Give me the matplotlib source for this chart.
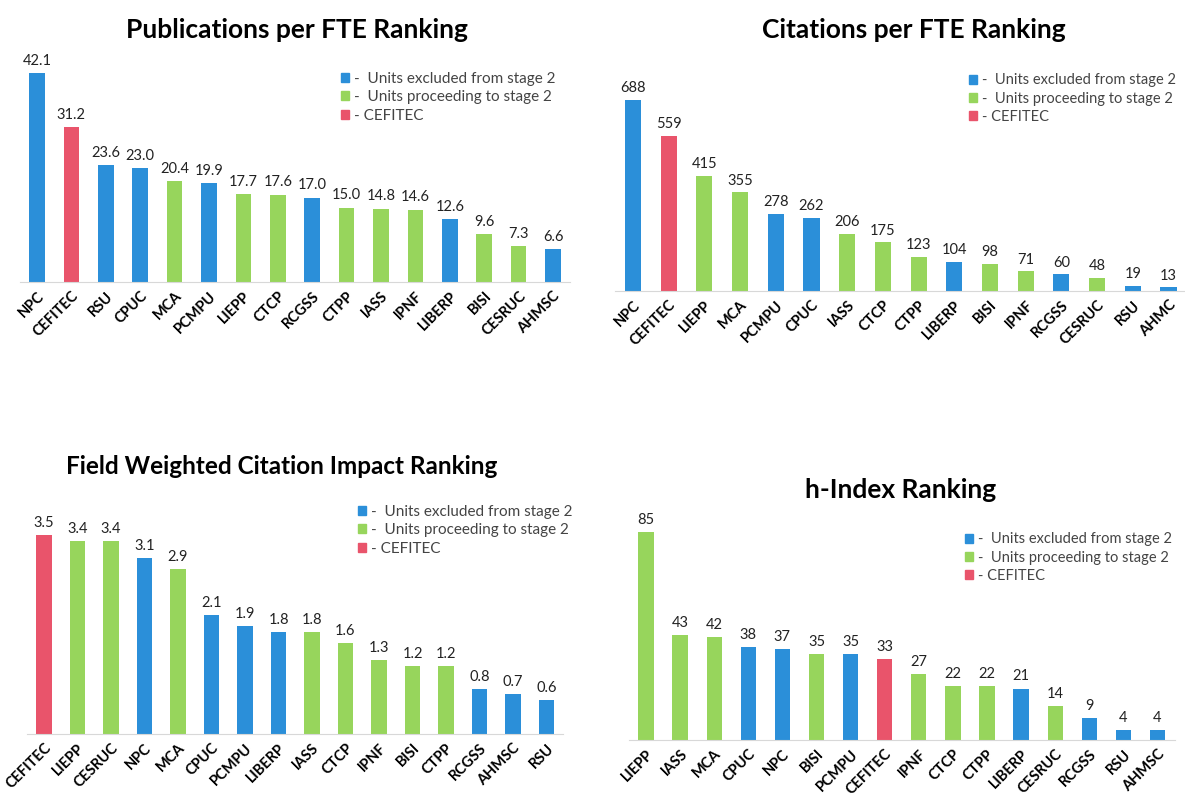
import matplotlib.pyplot as plt
from matplotlib.patches import Patch

plt.rcParams['font.family'] = ['Lato', 'DejaVu Sans']

# colours for the three groups
BLUE = "#2b8fd9"
GREEN = "#97d55c"
RED = "#e9546b"
colors = {"x": BLUE, "p": GREEN, "c": RED}

# publications per FTE
pub_names = ["NPC", "CEFITEC", "RSU", "CPUC", "MCA", "PCMPU", "LIEPP", "CTCP",
             "RCGSS", "CTPP", "IASS", "IPNF", "LIBERP", "BISI", "CESRUC", "AHMSC"]
pub_values = [42.1, 31.2, 23.6, 23.0, 20.4, 19.9, 17.7, 17.6,
              17.0, 15.0, 14.8, 14.6, 12.6, 9.6, 7.3, 6.6]
pub_groups = ["x", "c", "x", "x", "p", "x", "p", "p",
              "x", "p", "p", "p", "x", "p", "p", "x"]

# citations per FTE
cit_names = ["NPC", "CEFITEC", "LIEPP", "MCA", "PCMPU", "CPUC", "IASS", "CTCP",
             "CTPP", "LIBERP", "BISI", "IPNF", "RCGSS", "CESRUC", "RSU", "AHMC"]
cit_values = [688, 559, 415, 355, 278, 262, 206, 175,
              123, 104, 98, 71, 60, 48, 19, 13]
cit_groups = ["x", "c", "p", "p", "x", "x", "p", "p",
              "p", "x", "p", "p", "x", "p", "x", "x"]

# field weighted citation impact
fwci_names = ["CEFITEC", "LIEPP", "CESRUC", "NPC", "MCA", "CPUC", "PCMPU", "LIBERP",
              "IASS", "CTCP", "IPNF", "BISI", "CTPP", "RCGSS", "AHMSC", "RSU"]
fwci_values = [3.5, 3.4, 3.4, 3.1, 2.9, 2.1, 1.9, 1.8,
               1.8, 1.6, 1.3, 1.2, 1.2, 0.8, 0.7, 0.6]
fwci_groups = ["c", "p", "p", "x", "p", "x", "x", "x",
               "p", "p", "p", "p", "p", "x", "x", "x"]

# h-index
h_names = ["LIEPP", "IASS", "MCA", "CPUC", "NPC", "BISI", "PCMPU", "CEFITEC",
           "IPNF", "CTCP", "CTPP", "LIBERP", "CESRUC", "RCGSS", "RSU", "AHMSC"]
h_values = [85, 43, 42, 38, 37, 35, 35, 33, 27, 22, 22, 21, 14, 9, 4, 4]
h_groups = ["p", "p", "p", "x", "x", "p", "x", "c",
            "p", "p", "p", "x", "p", "x", "x", "x"]

W, H = 1185, 799
fig = plt.figure(figsize=(W / 100, H / 100), dpi=100)


def panel(names, values, groups, fmt, title, tsize, c0, sp, base, top, title_xy, leg_xy, lsize=11):
    n = len(names)
    left = (c0 - sp / 2) / W
    ax = fig.add_axes([left, (H - base) / H, n * sp / W, (base - top) / H])
    x = range(n)
    ax.bar(x, values, width=0.45, color=[colors[g] for g in groups])
    ax.set_xlim(-0.5, n - 0.5)
    ax.set_ylim(0, max(values))
    for i, v in enumerate(values):
        ax.text(i, v + max(values) * 0.025, fmt.format(v), ha="center", va="bottom",
                fontsize=10.5, color="#222222")
    ax.set_xticks(list(x))
    ax.set_xticklabels(names, rotation=45, ha="right", rotation_mode="anchor",
                       fontsize=10.5, fontweight="bold")
    ax.tick_params(axis="x", length=0, pad=5)
    ax.set_yticks([])
    for s in ["top", "right", "left"]:
        ax.spines[s].set_visible(False)
    ax.spines["bottom"].set_color("#d8d8d8")
    fig.text(title_xy[0] / W, 1 - title_xy[1] / H, title, ha="center", va="center",
             fontsize=tsize, fontweight="bold")
    handles = [Patch(color=BLUE), Patch(color=GREEN), Patch(color=RED)]
    labels = ["-  Units excluded from stage 2", "-  Units proceeding to stage 2", "- CEFITEC"]
    fig.legend(handles, labels, loc="upper left",
               bbox_to_anchor=(leg_xy[0] / W, 1 - leg_xy[1] / H),
               frameon=False, fontsize=lsize, handlelength=0.55, handleheight=0.55,
               handletextpad=0.3, labelspacing=0.3, borderpad=0, labelcolor="#444444")
    return ax


panel(pub_names, pub_values, pub_groups, "{:.1f}", "Publications per FTE Ranking", 19,
      37, 34.4, 282, 73, (297, 30), (333, 64))
panel(cit_names, cit_values, cit_groups, "{:d}", "Citations per FTE Ranking", 19,
      633, 35.7, 291, 100, (914, 30), (962, 66), lsize=10.5)
panel(fwci_names, fwci_values, fwci_groups, "{:.1f}", "Field Weighted Citation Impact Ranking", 17.5,
      44, 33.5, 734, 535, (282, 467), (350, 497))
panel(h_names, h_values, h_groups, "{:d}", "h-Index Ranking", 19,
      646, 34.1, 740, 532, (901, 490), (958, 525), lsize=10.5)

fig.savefig("out.png", dpi=100)
